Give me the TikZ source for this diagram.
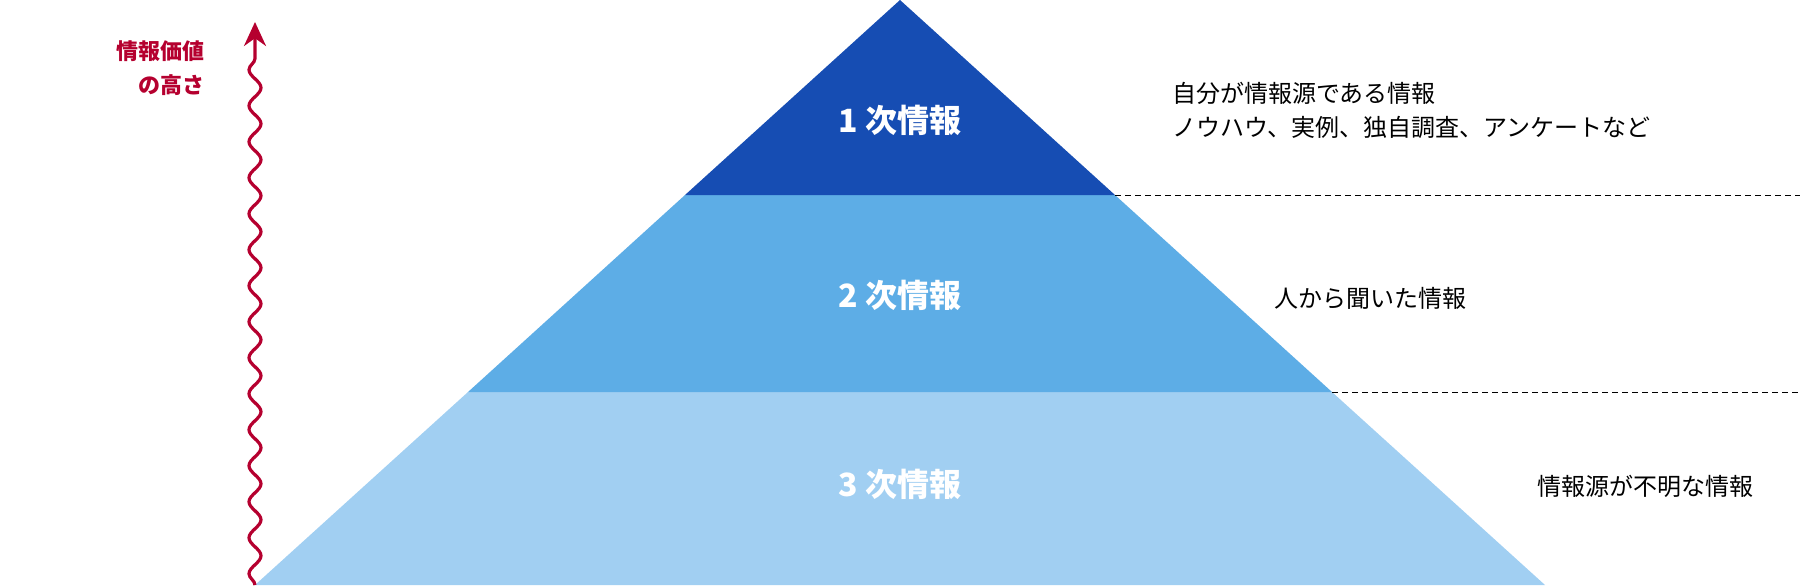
\documentclass[tikz,border=0pt]{standalone}
\usepackage{fontspec}
\setmainfont{Noto Sans CJK JP}
\usetikzlibrary{arrows.meta,decorations.pathmorphing}
\definecolor{lvlone}{HTML}{164DB3}
\definecolor{lvltwo}{HTML}{5DADE6}
\definecolor{lvlthree}{HTML}{A1CFF2}
\definecolor{valred}{HTML}{B5002F}
\tikzset{
    %Define style for level labels
    lvl/.style={
           text=white,
           font=\fontsize{16}{18}\selectfont\bfseries},
    %Define style for descriptions
    desc/.style={
           font=\fontsize{12}{17}\selectfont,
           align=left},
    % Define line styles
    sep/.style={
           dashed,
           thin,
           dash pattern=on 3pt off 2pt},
    wave/.style={
           valred,
           line width=1.6pt,
           -{Stealth[length=12pt,width=11pt]},
           decorate,
           decoration={snake,segment length=18pt,amplitude=3pt,post length=14pt}}
}
\begin{document}
\begin{tikzpicture}[x=0.5pt,y=-0.5pt]
  \useasboundingbox (0,0) rectangle (1800,585);
  \coordinate (apex) at (900,0);
  \coordinate (l1) at (685,195);
  \coordinate (r1) at (1115,195);
  \coordinate (l2) at (468,392);
  \coordinate (r2) at (1332,392);
  \coordinate (bl) at (255,585);
  \coordinate (br) at (1545,585);
  \fill[lvlthree] (l2) -- (r2) -- (br) -- (bl) -- cycle;
  \fill[lvltwo] (l1) -- (r1) -- (r2) -- (l2) -- cycle;
  \fill[lvlone] (apex) -- (r1) -- (l1) -- cycle;

  \coordinate (e1) at (1800,195);
  \coordinate (e2) at (1800,392);
  \draw[sep] (r1) -- (e1);
  \draw[sep] (r2) -- (e2);

  \node[lvl] (first) at (900,120) {1 次情報};
  \node[lvl] (second) at (900,295) {2 次情報};
  \node[lvl] (third) at (900,484) {3 次情報};

  \node[desc,anchor=west] (d1) at (1165,110) {自分が情報源である情報\\ノウハウ、実例、独自調査、アンケートなど};
  \node[desc] (d2) at (1370,298) {人から聞いた情報};
  \node[desc] (d3) at (1645,486) {情報源が不明な情報};

  \coordinate (vb) at (255,585);
  \coordinate (vt) at (255,22);
  \draw[wave] (vb) -- (vt);
  \node[valred,anchor=east,align=right,font=\fontsize{11}{17}\selectfont\bfseries] (val) at (212,68) {情報価値\\の高さ};
\end{tikzpicture}
\end{document}
